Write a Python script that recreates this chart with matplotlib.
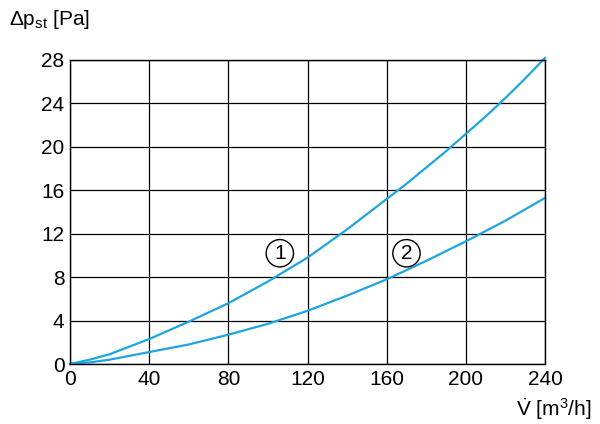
import matplotlib
matplotlib.use("Agg")
import matplotlib.pyplot as plt

plt.rcParams['font.family'] = ['Liberation Sans', 'DejaVu Sans']
plt.rcParams['mathtext.fontset'] = 'custom'
plt.rcParams['mathtext.rm'] = 'Liberation Sans'
plt.rcParams['mathtext.it'] = 'Liberation Sans'

flow = [0, 10, 20, 30, 40, 50, 60, 70, 80, 90, 100, 110, 120, 130, 140, 150, 160, 170, 180, 190, 200, 210, 220, 230, 240]
curve1 = [0, 0.4, 0.9, 1.6, 2.3, 3.1, 3.9, 4.75, 5.6, 6.6, 7.6, 8.7, 9.8, 11.1, 12.4, 13.8, 15.2, 16.6, 18.1, 19.6, 21.2, 22.8, 24.5, 26.3, 28.2]
curve2 = [0, 0.15, 0.4, 0.75, 1.1, 1.45, 1.8, 2.25, 2.7, 3.2, 3.7, 4.3, 4.9, 5.6, 6.3, 7.05, 7.8, 8.65, 9.5, 10.4, 11.3, 12.25, 13.2, 14.25, 15.3]
xticks = [0, 40, 80, 120, 160, 200, 240]
yticks = [0, 4, 8, 12, 16, 20, 24, 28]
labels = [("1", 106, 10.2), ("2", 170, 10.2)]

fig = plt.figure(figsize=(6, 4.24), dpi=100)
ax = fig.add_axes([0.1167, 0.1415, 0.7917, 0.7170])
color = '#1ea5e0'
ax.plot(flow, curve1, color=color, lw=1.6, clip_on=False)
ax.plot(flow, curve2, color=color, lw=1.6, clip_on=False)
for t, x, y in labels:
    ax.text(x, y, t, fontsize=15, ha='center', va='center',
            bbox=dict(boxstyle='circle,pad=0.2', fc='white', ec='black', lw=1))
ax.set_xlim(0, 240)
ax.set_ylim(0, 28)
ax.set_xticks(xticks)
ax.set_yticks(yticks)
ax.tick_params(labelsize=15, length=0, pad=4)
ax.grid(True, color='black', lw=0.9)
for s in ax.spines.values():
    s.set_color('black'); s.set_linewidth(1)
fig.text(0.015, 0.955, r'$\Delta$p$_{\rm st}$ [Pa]', fontsize=15, ha='left', va='center')
fig.text(0.985, 0.035, r'$\dot{\rm V}$ [m$^3$/h]', fontsize=15, ha='right', va='center')
fig.savefig('out.png', dpi=100)
